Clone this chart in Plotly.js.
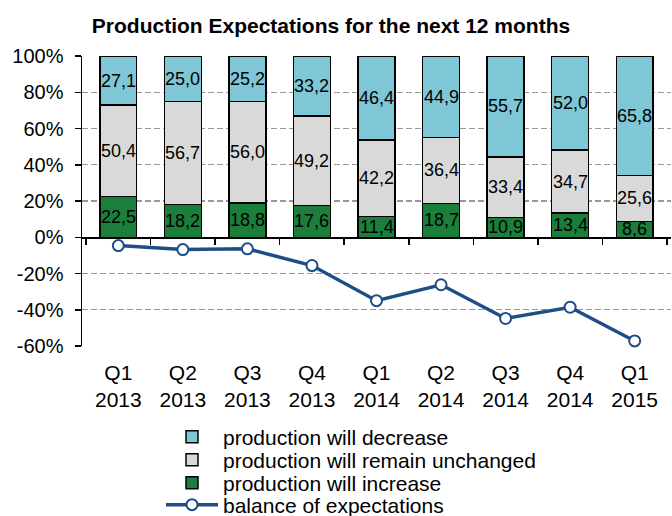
<!DOCTYPE html>
<html>
<head>
<meta charset="utf-8">
<script src="https://cdn.plot.ly/plotly-3.0.1.min.js"></script>
<style>html,body{margin:0;padding:0;background:#fff;}#chart{width:672px;height:516px;}</style>
</head>
<body>
<div id="chart"></div>
<script>
const categories = ["Q1<br>2013","Q2<br>2013","Q3<br>2013","Q4<br>2013","Q1<br>2014","Q2<br>2014","Q3<br>2014","Q4<br>2014","Q1<br>2015"];
const increase  = [22.5, 18.2, 18.8, 17.6, 11.4, 18.7, 10.9, 13.4, 8.6];
const unchanged = [50.4, 56.7, 56.0, 49.2, 42.2, 36.4, 33.4, 34.7, 25.6];
const decrease  = [27.1, 25.0, 25.2, 33.2, 46.4, 44.9, 55.7, 52.0, 65.8];
const balance   = [-4.6, -6.8, -6.4, -15.6, -35.0, -26.2, -44.8, -38.6, -57.2];
const yTickVals = [-60, -40, -20, 0, 20, 40, 60, 80, 100];
const yTickText = ["-60%", "-40%", "-20%", "0%", "20%", "40%", "60%", "80%", "100%"];

const FONT = "Liberation Sans, Arial, sans-serif";
const fmt = v => v.toFixed(1).replace('.', ',');

function barTrace(name, vals, color, legendId) {
  return {
    type: 'bar', name: name, x: categories, y: vals,
    marker: {color: color, line: {color: '#000', width: 1.5}},
    hoverinfo: 'skip', legend: legendId
  };
}

const data = [
  barTrace('production will increase', increase, '#1B7E3A', 'legend3'),
  barTrace('production will remain unchanged', unchanged, '#D9D9D9', 'legend2'),
  barTrace('production will decrease', decrease, '#7FC6D6', 'legend'),
  {
    type: 'scatter', mode: 'lines+markers', name: 'balance of expectations',
    x: categories, y: balance, xaxis: 'x2', yaxis: 'y',
    line: {color: '#1F4E87', width: 3.5},
    marker: {size: 11, color: '#fff', line: {color: '#1F4E87', width: 2}},
    legend: 'legend4', cliponaxis: false
  }
];

// value labels placed at the middle of each stacked segment (data coordinates)
const annotations = [];
categories.forEach((c, i) => {
  let base = 0;
  [increase, unchanged, decrease].forEach(series => {
    const v = series[i];
    annotations.push({
      x: c, y: base + v / 2, xref: 'x', yref: 'y',
      text: fmt(v), showarrow: false,
      font: {family: FONT, size: 18, color: '#000'},
      xanchor: 'center', yanchor: 'middle'
    });
    base += v;
  });
});

function leg(yc) {
  return {
    x: 161/672, xref: 'container', xanchor: 'left',
    y: 1 - yc/516, yref: 'container', yanchor: 'middle',
    font: {family: FONT, size: 21, color: '#000'},
    bgcolor: 'rgba(0,0,0,0)', itemwidth: 52, borderwidth: 0
  };
}

const layout = {
  width: 672, height: 516,
  margin: {l: 82, r: 1, t: 56, b: 170, autoexpand: false},
  paper_bgcolor: '#fff', plot_bgcolor: '#fff',
  font: {family: FONT, size: 21, color: '#000'},
  title: {
    text: '<b>Production Expectations for the next 12 months</b>',
    font: {family: FONT, size: 21, color: '#000'},
    x: 331/672, xanchor: 'center', xref: 'container',
    y: 1 - 26/516, yanchor: 'middle', yref: 'container'
  },
  barmode: 'stack', bargap: 0.43,
  showlegend: true,
  legend: leg(437),
  legend2: leg(460),
  legend3: leg(483),
  legend4: leg(505),
  annotations: annotations,
  xaxis: {
    type: 'category', showline: false, ticks: '', showgrid: false,
    tickfont: {family: FONT, size: 21, color: '#000'}, tickangle: 0,
    ticklabelstandoff: 12, fixedrange: true, automargin: false
  },
  xaxis2: {
    type: 'category', matches: 'x', overlaying: 'x', anchor: 'free', position: 0.375,
    side: 'bottom', showline: true, linecolor: '#000', linewidth: 1.5,
    ticks: 'outside', ticklen: 6, tickwidth: 1.5, tickcolor: '#000',
    tickson: 'boundaries', showticklabels: false, showgrid: false, automargin: false
  },
  yaxis: {
    range: [-60, 100], tickvals: yTickVals, ticktext: yTickText,
    showline: true, linecolor: '#000', linewidth: 1.5,
    ticks: 'outside', ticklen: 6, tickwidth: 1.5, tickcolor: '#000',
    showgrid: true, gridcolor: '#999', griddash: '6px,3px', gridwidth: 1.3,
    zeroline: false, tickfont: {family: FONT, size: 20, color: '#000'},
    ticklabelstandoff: 7, fixedrange: true, automargin: false
  }
};

Plotly.newPlot('chart', data, layout, {displayModeBar: false, staticPlot: true});
</script>
</body>
</html>
